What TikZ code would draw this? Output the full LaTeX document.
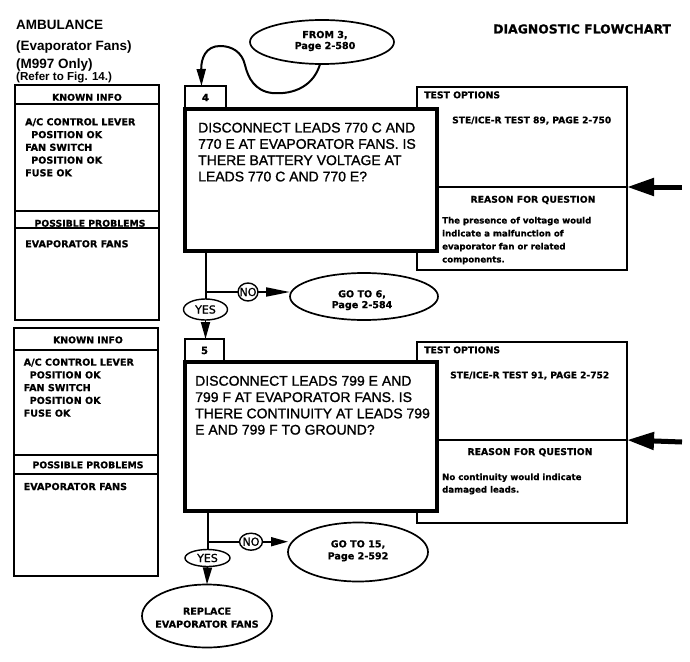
\documentclass[tikz,border=0pt]{standalone}
\usepackage{fontspec}
\setmainfont{Liberation Sans}
\newfontfamily\djv{DejaVu Sans}
\newfontfamily\djvb[FakeBold=0.8]{DejaVu Sans Bold}
\newfontfamily\djvm[FakeBold=1.2]{DejaVu Sans}
\newfontfamily\qfont[FakeBold=1.2]{Liberation Sans}
\usetikzlibrary{arrows.meta,shapes.geometric}
\newcommand\myfs[2]{\fontsize{#1}{#2}\selectfont}
\begin{document}
\begin{tikzpicture}[x=1pt,y=-1pt,
  box/.style={draw, line width=1.3pt, inner sep=0pt, outer sep=0pt, anchor=north west},
  testbox/.style={draw, line width=1.5pt, inner sep=0pt, outer sep=0pt, anchor=north west, minimum width=210pt},
  qbox/.style={draw, line width=4pt, fill=white, inner sep=0pt, outer sep=0pt, anchor=north west, minimum width=252pt},
  tabbox/.style={draw, line width=1.5pt, fill=white, inner sep=0pt, outer sep=0pt, anchor=north west, minimum height=23pt, font=\djvb\myfs{10}{12}},
  oval/.style={draw, ellipse, line width=1.7pt, inner sep=0pt, outer sep=0pt},
  otext/.style={inner sep=0pt, anchor=north, align=center, font=\djvb\myfs{9.6}{11}},
  tag/.style={draw, ellipse, line width=1.4pt, inner sep=-3pt, outer sep=0pt, font=\djvm\myfs{11}{12}},
  hdr/.style={inner sep=0pt, anchor=base, font=\djvb\myfs{9.3}{11}},
  hdrl/.style={inner sep=0pt, anchor=base west, font=\djvb\myfs{9.3}{11}},
  opt/.style={inner sep=0pt, anchor=base west, font=\djvb\myfs{9.1}{11}},
  info/.style={inner sep=0pt, anchor=north west, align=left, font=\djvb\myfs{9.6}{12.75}},
  qtext/.style={inner sep=0pt, anchor=north west, align=left, font=\qfont\myfs{14}{16.3}},
  why/.style={inner sep=0pt, anchor=north west, align=left, font=\djvb\myfs{8.6}{13}},
  title/.style={inner sep=0pt, anchor=base west, font=\bfseries\myfs{13.5}{15}},
  link/.style={line width=2pt},
  arr/.style={line width=1.8pt, -{Triangle[length=17pt,width=9pt]}},
  bigarr/.style={line width=5pt, -{Triangle[length=27pt,width=17pt]}},
]
\useasboundingbox (0,0) rectangle (690,661);

% titles
\node[title] (amb) at (16,29.5) {AMBULANCE};
\node[title] (evap) at (16,50.3) {(Evaporator Fans)};
\node[title] (m997) at (16,68.5) {(M997 Only)};
\node[title, font=\bfseries\myfs{11.6}{13}] (refer) at (16,80.5) {(Refer to Fig. 14.)};
\node[inner sep=0pt, anchor=base west, font=\djvb\myfs{12.4}{14}] (diag) at (493,33.5) {DIAGNOSTIC FLOWCHART};

% ---------- step 4 ----------
\node[box, minimum width=144pt, minimum height=235pt] (k1) at (15,85) {};
\draw[line width=1.3pt] ([yshift=-19pt]k1.north west) -- ([yshift=-19pt]k1.north east);
\draw[line width=1.3pt] ([yshift=-126pt]k1.north west) -- ([yshift=-126pt]k1.north east);
\draw[line width=1.3pt] ([yshift=-143pt]k1.north west) -- ([yshift=-143pt]k1.north east);
\node[hdr] (k1h) at (87,100.7) {KNOWN INFO};
\node[info] (k1i) at (25,118) {A/C CONTROL LEVER\\\hspace*{6pt}POSITION OK\\FAN SWITCH\\\hspace*{6pt}POSITION OK\\FUSE OK};
\node[hdr] (k1p) at (90,226.7) {POSSIBLE PROBLEMS};
\node[info] (k1e) at (25,240) {EVAPORATOR FANS};

\node[testbox, minimum height=183pt] (tp1) at (417,87) {};
\coordinate (d1) at ([yshift=-100pt]tp1.north east);
\draw[line width=1.5pt] ([yshift=-100pt]tp1.north west) -- (d1);
\node[tabbox, minimum width=41pt] (t1) at (185,86) {4};
\node[qbox, minimum height=142pt] (q1) at (185,109) {};
\node[qtext] (q1t) at (198,122.5) {DISCONNECT LEADS 770 C AND\\770 E AT EVAPORATOR FANS. IS\\THERE BATTERY VOLTAGE AT\\LEADS 770 C AND 770 E?};
\node[hdrl] (tp1h) at (424,98.3) {TEST OPTIONS};
\node[opt] (tp1o) at (452,123.3) {STE/ICE-R TEST 89, PAGE 2-750};
\node[hdr] (tp1r) at (533,202.7) {REASON FOR QUESTION};
\node[why] (tp1w) at (442,216.7) {The presence of voltage would\\indicate a malfunction of\\evaporator fan or related\\components.};
\coordinate (a1) at (682,187);
\draw[bigarr] (a1) -- (d1);

% from 3
\node[oval, minimum width=144pt, minimum height=44pt] (from3) at (322,42) {};
\node[otext] (from3t) at (325,30.7) {FROM 3,\\Page 2-580};
\coordinate (t1tip) at ([xshift=-4pt]t1.north);
\draw[line width=2pt, -{Triangle[length=17pt,width=9pt]}] (from3.265)
  .. controls (314,85) and (295,95) .. (272,93)
  .. controls (255,91) and (248,78) .. (245,65)
  .. controls (242,52) and (232,46) .. (220,46)
  .. controls (206,46) and (201,58) .. (t1tip);

% branches after 4
\node[tag, minimum width=44pt, minimum height=21pt] (yes1) at (205.5,309.5) {YES};
\node[tag, minimum width=20pt, minimum height=18pt] (no1) at (248,292) {NO};
\node[oval, minimum width=148pt, minimum height=47pt] (go6) at (364,296.5) {};
\node[otext, font=\djvb\myfs{9.6}{10.8}] (go6t) at (362,290) {GO TO 6,\\Page 2-584};
\draw[link] (q1.south -| yes1) -- (yes1.north);
\draw[link] (no1.west) -- (no1.west -| yes1);
\draw[arr, -{Triangle[length=24pt,width=9pt]}] (no1.east) -- (no1.east -| go6.west);

% ---------- step 5 ----------
\node[box, minimum width=144pt, minimum height=248pt] (k2) at (14,328) {};
\draw[line width=1.3pt] ([yshift=-22pt]k2.north west) -- ([yshift=-22pt]k2.north east);
\draw[line width=1.3pt] ([yshift=-127pt]k2.north west) -- ([yshift=-127pt]k2.north east);
\draw[line width=1.3pt] ([yshift=-146pt]k2.north west) -- ([yshift=-146pt]k2.north east);
\node[hdr] (k2h) at (88,343.3) {KNOWN INFO};
\node[info] (k2i) at (23.5,358.3) {A/C CONTROL LEVER\\\hspace*{6pt}POSITION OK\\FAN SWITCH\\\hspace*{6pt}POSITION OK\\FUSE OK};
\node[hdr] (k2p) at (88,468.3) {POSSIBLE PROBLEMS};
\node[info] (k2e) at (23.5,482.7) {EVAPORATOR FANS};

\node[testbox, minimum height=181pt] (tp2) at (417,342) {};
\coordinate (d2) at ([yshift=-98pt]tp2.north east);
\draw[line width=1.5pt] ([yshift=-98pt]tp2.north west) -- (d2);
\node[tabbox, minimum width=39pt] (t2) at (185,339) {5};
\node[qbox, minimum height=149pt] (q2) at (185,362) {};
\node[qtext] (q2t) at (195,375.7) {DISCONNECT LEADS 799 E AND\\799 F AT EVAPORATOR FANS. IS\\THERE CONTINUITY AT LEADS 799\\E AND 799 F TO GROUND?};
\node[hdrl] (tp2h) at (424,353.3) {TEST OPTIONS};
\node[opt] (tp2o) at (450,378.3) {STE/ICE-R TEST 91, PAGE 2-752};
\node[hdr] (tp2r) at (530,455) {REASON FOR QUESTION};
\node[why, font=\djvb\myfs{8.6}{12.5}] (tp2w) at (442,473.3) {No continuity would indicate\\damaged leads.};
\coordinate (a2) at (682,442);
\draw[bigarr] (a2) -- (d2);

\draw[arr] (yes1.south) -- (t2.north -| yes1);

% branches after 5
\node[tag, minimum width=45pt, minimum height=17pt] (yes2) at (207.5,558) {YES};
\node[tag, minimum width=23pt, minimum height=17pt] (no2) at (251,541.7) {NO};
\node[oval, minimum width=140pt, minimum height=59pt] (go15) at (358,552) {};
\node[otext, font=\djvb\myfs{9.6}{12}] (go15t) at (358,540) {GO TO 15,\\Page 2-592};
\node[oval, minimum width=130pt, minimum height=63pt] (rep) at (207,616) {};
\node[otext, font=\djvb\myfs{9.6}{13}] (rept) at (207,607.3) {REPLACE\\EVAPORATOR FANS};
\draw[link] (q2.south -| yes2) -- (yes2.north);
\draw[link] (no2.west) -- (no2.west -| yes2);
\draw[arr] (no2.east) -- (no2.east -| go15.west);
\draw[arr] (yes2.south) -- (rep.north);
\end{tikzpicture}
\end{document}
